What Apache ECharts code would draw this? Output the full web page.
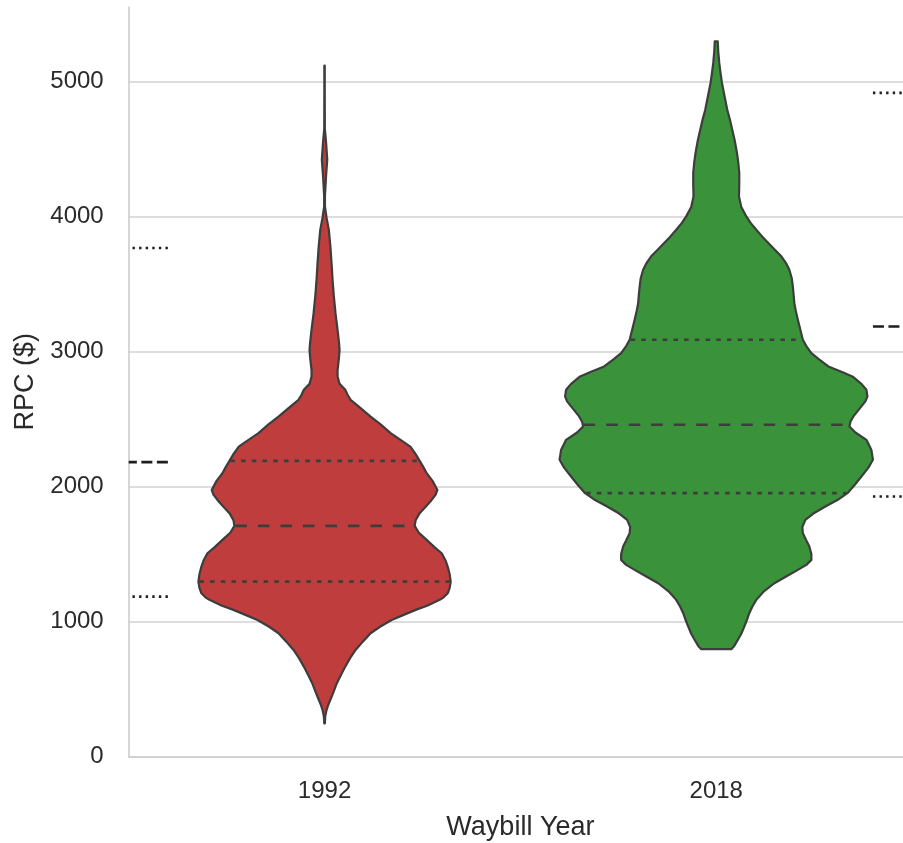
<!DOCTYPE html>
<html>
<head>
<meta charset="utf-8">
<script src="https://cdn.jsdelivr.net/npm/echarts@6/dist/echarts.min.js"></script>
<style>
  html, body { margin: 0; padding: 0; background: #ffffff; }
  #chart { width: 903px; height: 843px; }
</style>
</head>
<body>
<div id="chart"></div>
<script>
// Waybill years shown on the x axis
const categories = ['1992', '2018'];

// Kernel density profiles (RPC level, relative density)
const rpcLevels1992 = [247, 300, 346, 380, 420, 480, 544, 600, 667, 730, 790, 850, 914, 960, 1012, 1050, 1087, 1120, 1161, 1180, 1210, 1250, 1296, 1350, 1407, 1450, 1506, 1550, 1605, 1660, 1709, 1750, 1803, 1850, 1901, 1940, 1975, 2040, 2099, 2140, 2190, 2240, 2296, 2340, 2395, 2460, 2519, 2580, 2642, 2680, 2716, 2760, 2815, 2860, 2914, 2960, 3012, 3060, 3160, 3280, 3407, 3530, 3654, 3780, 3900, 3990, 4074, 4150, 4300, 4420, 4550, 4650, 4900, 5116];
const density1992 = [0.3, 0.7, 2, 3.5, 5.7, 9, 12.3, 16, 20.7, 25.5, 31, 38, 46, 55, 67, 79, 91, 103, 115, 119, 123, 125, 126, 125, 123, 121, 117, 110, 102, 94, 90, 91, 95, 101, 107, 111, 112.7, 108, 102, 99, 95, 91, 85.7, 77, 66, 56, 45.7, 36, 26, 23, 20.7, 15, 13, 13, 13.8, 14.5, 15, 14.5, 13, 11, 9.3, 8, 7, 5.8, 4.3, 2, 0.4, 0.4, 1.5, 2.7, 1.5, 0.3, 0.2, 0.2];

const rpcLevels2018 = [796, 820, 864, 910, 963, 1010, 1062, 1110, 1161, 1220, 1284, 1330, 1383, 1420, 1457, 1500, 1556, 1600, 1655, 1700, 1753, 1800, 1852, 1900, 1951, 2010, 2074, 2140, 2198, 2270, 2346, 2400, 2444, 2480, 2519, 2593, 2630, 2667, 2716, 2760, 2815, 2850, 2889, 2940, 2988, 3040, 3087, 3160, 3235, 3300, 3358, 3420, 3481, 3540, 3605, 3650, 3704, 3750, 3803, 3850, 3901, 3950, 4000, 4070, 4148, 4240, 4321, 4400, 4469, 4560, 4642, 4720, 4790, 4900, 4988, 5060, 5136, 5220, 5296];
const density2018 = [15, 18, 21.5, 25, 28, 30.5, 33, 36, 40, 47, 58, 69, 81.5, 90, 95, 95, 93, 90, 86.5, 86, 89, 97, 109, 121, 131, 138, 145, 152, 156.5, 155, 150, 139, 133, 134, 137, 145, 149, 151, 150, 145, 136, 125, 112, 103, 95, 90, 86.5, 84, 81.5, 79.5, 78, 77.3, 76.5, 75.5, 73, 70, 65, 59, 52, 46, 40, 34.5, 30, 25, 22.7, 23, 23, 22, 20.7, 18.5, 16, 13.5, 11, 8, 5.7, 4.3, 3, 2, 1.5];

// Quartiles: lower, median, upper
const quartiles1992 = [1296, 1709, 2190];
const quartiles2018 = [1951, 2457, 3087];

// Quartile lines of the neighbouring panels' violins that reach into this panel
const leftNeighbourQuartiles = [1185, 2181, 3766];
const rightNeighbourQuartiles = [1926, 3185, 4914];

// Y axis tick values
const yTicks = [0, 1000, 2000, 3000, 4000, 5000];

const fills = ['#c03d3e', '#3a923a'];
const edgeGray = '#3d3d3d';
const fontFamily = '"Liberation Sans", Arial, sans-serif';

const violins = [
  { levels: rpcLevels1992, density: density1992, quartiles: quartiles1992 },
  { levels: rpcLevels2018, density: density2018, quartiles: quartiles2018 }
];

// scale="area": the widest violin spans 0.8 of a category
const maxDensity = Math.max(...density1992, ...density2018);
const widthScale = 0.4 / maxDensity;

function densityAt(v, y) {
  const L = v.levels, D = v.density;
  if (y <= L[0]) return D[0];
  for (let k = 1; k < L.length; k++) {
    if (y <= L[k]) {
      const t = (y - L[k - 1]) / (L[k] - L[k - 1]);
      return D[k - 1] + t * (D[k] - D[k - 1]);
    }
  }
  return D[D.length - 1];
}

const quartileDash = [4.5, 6.2];
const medianDash = [11.5, 11];

function violinItem(params, api) {
  const v = violins[params.dataIndex];
  const c = api.value(0);
  const right = [], left = [];
  for (let k = 0; k < v.levels.length; k++) {
    const hw = v.density[k] * widthScale;
    right.push(api.coord([c + hw, v.levels[k]]));
    left.push(api.coord([c - hw, v.levels[k]]));
  }
  const points = right.concat(left.reverse());
  const children = [{
    type: 'polygon',
    shape: { points: points },
    style: { fill: fills[params.dataIndex], stroke: edgeGray, lineWidth: 2.2, lineJoin: 'round' }
  }];
  v.quartiles.forEach(function (q, i) {
    const hw = densityAt(v, q) * widthScale;
    const p0 = api.coord([c - hw, q]);
    const p1 = api.coord([c + hw, q]);
    children.push({
      type: 'line',
      shape: { x1: p0[0] + 1, y1: p0[1], x2: p1[0] - 1, y2: p1[1] },
      style: { stroke: edgeGray, lineWidth: 2.6, lineDash: i === 1 ? medianDash : quartileDash, lineCap: 'butt' }
    });
  });
  return { type: 'group', children: children };
}

// Neighbour stubs: [centre, value, quartile index]
const X_MIN = -0.5, X_MAX = 1.5;
const STUB_HALF = 0.6;
const stubData = [];
leftNeighbourQuartiles.forEach(function (q, i) { stubData.push([-1, q, i]); });
rightNeighbourQuartiles.forEach(function (q, i) { stubData.push([2, q, i]); });

function stubItem(params, api) {
  const c = api.value(0), q = api.value(1), i = api.value(2);
  const x0 = Math.max(c - STUB_HALF, X_MIN);
  const x1 = Math.min(c + STUB_HALF, X_MAX);
  if (x1 <= x0) return null;
  const pa = api.coord([x0, q]);
  const pb = api.coord([x1, q]);
  // dash phase starts at the visible tip of each stub
  const from = c < 0 ? pb : pa;
  const to = c < 0 ? pa : pb;
  return {
    type: 'line',
    shape: { x1: from[0], y1: from[1], x2: to[0], y2: to[1] },
    style: { stroke: '#1e1e1e', lineWidth: 2.6, lineDash: i === 1 ? [11, 4.5] : [2.4, 4.2], lineCap: 'butt' }
  };
}

const chart = echarts.init(document.getElementById('chart'), null, { renderer: 'canvas' });
chart.setOption({
  animation: false,
  backgroundColor: '#ffffff',
  grid: { left: 128.7, top: 7, width: 783.4, bottom: 86.3, containLabel: false, outerBoundsMode: 'none' },
  xAxis: {
    type: 'value',
    min: X_MIN,
    max: X_MAX,
    name: 'Waybill Year',
    nameLocation: 'middle',
    nameGap: 57,
    nameTextStyle: { fontSize: 27, color: '#2a2a2a', fontFamily: fontFamily },
    axisLine: { show: true, onZero: false, lineStyle: { color: '#cccccc', width: 1.6 } },
    axisTick: { show: false, customValues: [0, 1] },
    splitLine: { show: false },
    axisLabel: {
      customValues: [0, 1],
      formatter: function (v) { return categories[Math.round(v)]; },
      fontSize: 24, color: '#2a2a2a', fontFamily: fontFamily, margin: 23
    }
  },
  yAxis: {
    type: 'value',
    min: 0,
    max: 5550,
    name: 'RPC ($)',
    nameLocation: 'middle',
    nameGap: 85,
    nameTextStyle: { fontSize: 27, color: '#2a2a2a', fontFamily: fontFamily },
    axisLine: { show: true, onZero: false, lineStyle: { color: '#cccccc', width: 1.6 } },
    axisTick: { show: false, customValues: yTicks },
    splitLine: { show: true, lineStyle: { color: '#d2d2d2', width: 1.6 } },
    axisLabel: {
      customValues: yTicks,
      formatter: function (v) { return String(v); },
      fontSize: 24, color: '#2a2a2a', fontFamily: fontFamily, margin: 25
    }
  },
  series: [
    {
      type: 'custom',
      clip: true,
      renderItem: stubItem,
      encode: { x: 0, y: 1 },
      data: stubData,
      z: 2
    },
    {
      type: 'custom',
      clip: true,
      renderItem: violinItem,
      encode: { x: 0, y: 1 },
      data: categories.map(function (name, i) { return [i, violins[i].quartiles[1]]; }),
      z: 3
    }
  ]
});
</script>
</body>
</html>
